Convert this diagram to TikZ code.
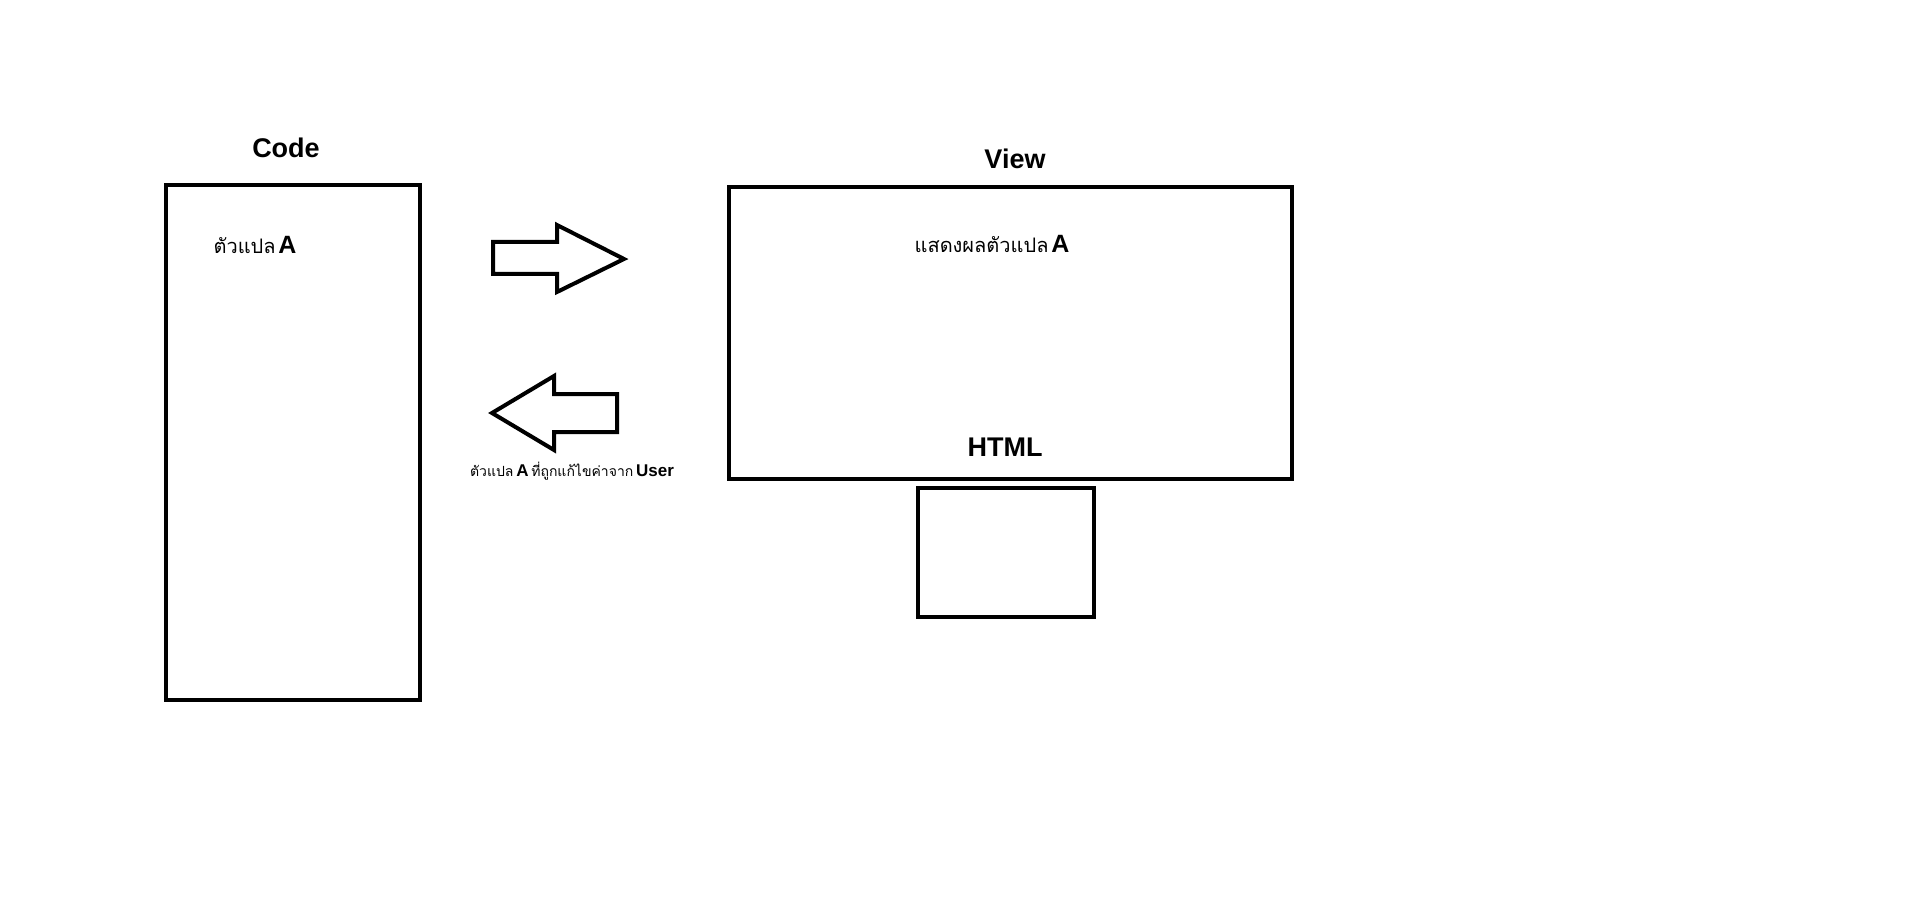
\documentclass[tikz,border=0pt]{standalone}
\usepackage{fontspec}
\setmainfont{Liberation Sans}
\newfontfamily\thaifont[Script=Thai]{Loma}
\begin{document}
\begin{tikzpicture}[x=1pt,y=-1pt,
  box/.style={draw,line width=4pt,inner sep=0pt,anchor=north west},
  title/.style={font=\fontsize{27}{31}\selectfont\bfseries,inner sep=0pt},
  arrowshape/.style={draw,line width=4pt,line join=miter},
  lbl/.style={inner sep=0pt}]
\useasboundingbox (0,0) rectangle (1920,917);
% boxes
\node[box,minimum width=254pt,minimum height=515pt] (code) at (164,183) {};
\node[box,minimum width=563pt,minimum height=292pt] (view) at (727,185) {};
\node[box,minimum width=176pt,minimum height=129pt] (small) at (916,486) {};
% titles
\node[title] (codet) at (286,148) {Code};
\node[title] (viewt) at (1015,159) {View};
\node[title] (html) at (1005,447) {HTML};
% inner texts
\node[lbl] (varA) at (255,245) {{\thaifont\fontsize{20}{24}\selectfont ตัวแปล} {\fontsize{25}{29}\selectfont\bfseries A}};
\node[lbl] (showA) at (992,244) {{\thaifont\fontsize{20}{24}\selectfont แสดงผลตัวแปล} {\fontsize{25}{29}\selectfont\bfseries A}};
\node[lbl] (cap) at (572,471) {{\thaifont\fontsize{14}{17}\selectfont ตัวแปล} {\fontsize{17}{20}\selectfont\bfseries A} {\thaifont\fontsize{14}{17}\selectfont ที่ถูกแก้ไขค่าจาก} {\fontsize{17}{20}\selectfont\bfseries User}};
% right arrow
\coordinate (r1) at (493,242);
\coordinate (r2) at (557,242);
\coordinate (r3) at (557,225);
\coordinate (rtip) at (624,259);
\coordinate (r5) at (557,292);
\coordinate (r6) at (557,274);
\coordinate (r7) at (493,274);
\draw[arrowshape] (r1) -- (r2) -- (r3) -- (rtip) -- (r5) -- (r6) -- (r7) -- cycle;
% left arrow
\coordinate (ltip) at (492,413);
\coordinate (l2) at (554,376);
\coordinate (l3) at (554,394);
\coordinate (l4) at (617,394);
\coordinate (l5) at (617,432);
\coordinate (l6) at (554,432);
\coordinate (l7) at (554,450);
\draw[arrowshape] (ltip) -- (l2) -- (l3) -- (l4) -- (l5) -- (l6) -- (l7) -- cycle;
\end{tikzpicture}
\end{document}
